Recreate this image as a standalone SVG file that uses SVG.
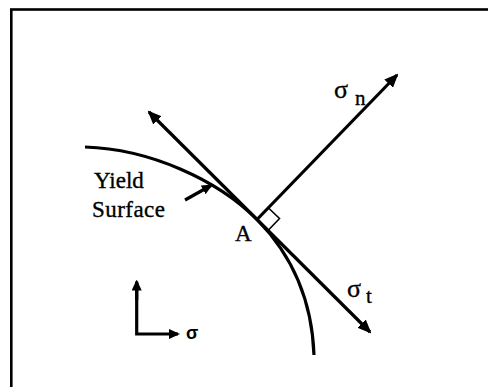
<svg xmlns="http://www.w3.org/2000/svg" width="488" height="387" viewBox="0 0 488 387">
  <style>
    .ln { stroke: #000; stroke-width: 3.2; fill: none; }
    .thin { stroke: #000; stroke-width: 1.6; fill: none; }
    .txt { font-family: "Liberation Serif", "Times New Roman", serif; fill: #000; stroke: #000; stroke-width: 0.35; }
  </style>
  <defs>
    <marker id="ah" markerUnits="userSpaceOnUse" markerWidth="14" markerHeight="12" refX="12" refY="6" orient="auto">
      <path d="M0,0 L14,6 L0,12 Z" fill="#000"/>
    </marker>
    <marker id="ahs" markerUnits="userSpaceOnUse" markerWidth="11" markerHeight="10" refX="9" refY="5" orient="auto">
      <path d="M0,0 L11,5 L0,10 Z" fill="#000"/>
    </marker>
  </defs>
  <rect width="488" height="387" fill="#fff"/>
  <g id="frame">
    <rect x="11.3" y="9.5" width="500" height="400" fill="none" stroke="#000" stroke-width="2.6"/>
  </g>
  <g id="yield-surface">
    <path class="ln" stroke-width="3.6" d="M85,147 C150,149 218,180 257,219.5 C291,254 312,300 314,355"/>
  </g>
  <g id="connectors">
    <line class="ln" x1="257" y1="219.5" x2="149" y2="112" marker-end="url(#ah)"/>
    <line class="ln" x1="257" y1="219.5" x2="370" y2="332" marker-end="url(#ah)"/>
    <line class="ln" x1="257" y1="219.5" x2="397" y2="75" marker-end="url(#ah)"/>
    <polyline class="thin" points="268,207.5 279.5,218.5 268.5,230"/>
    <line class="ln" x1="185" y1="200" x2="211" y2="185.5" marker-end="url(#ahs)"/>
    <polyline class="ln" stroke-width="2.6" points="136.7,283 136.7,334 178,334" marker-end="url(#ahs)"/>
    <line class="ln" stroke-width="2.6" x1="136.7" y1="300" x2="136.7" y2="281.5" marker-end="url(#ahs)"/>
  </g>
  <g id="label-yield">
    <text class="txt" x="94" y="188" font-size="23">Yield</text>
    <text class="txt" x="92" y="217" font-size="23" textLength="73">Surface</text>
  </g>
  <g id="label-A">
    <text class="txt" x="235" y="241" font-size="23">A</text>
  </g>
  <g id="label-sigma-n">
    <text class="txt" x="334" y="98" font-size="26">σ</text>
    <text class="txt" x="355" y="105" font-size="21">n</text>
  </g>
  <g id="label-sigma-t">
    <text class="txt" x="347" y="297" font-size="26">σ</text>
    <text class="txt" x="366" y="303" font-size="21">t</text>
  </g>
  <g id="label-sigma">
    <text x="186" y="339" font-size="18" font-weight="bold" font-family="Liberation Sans, Arial, sans-serif">σ</text>
  </g>
</svg>
